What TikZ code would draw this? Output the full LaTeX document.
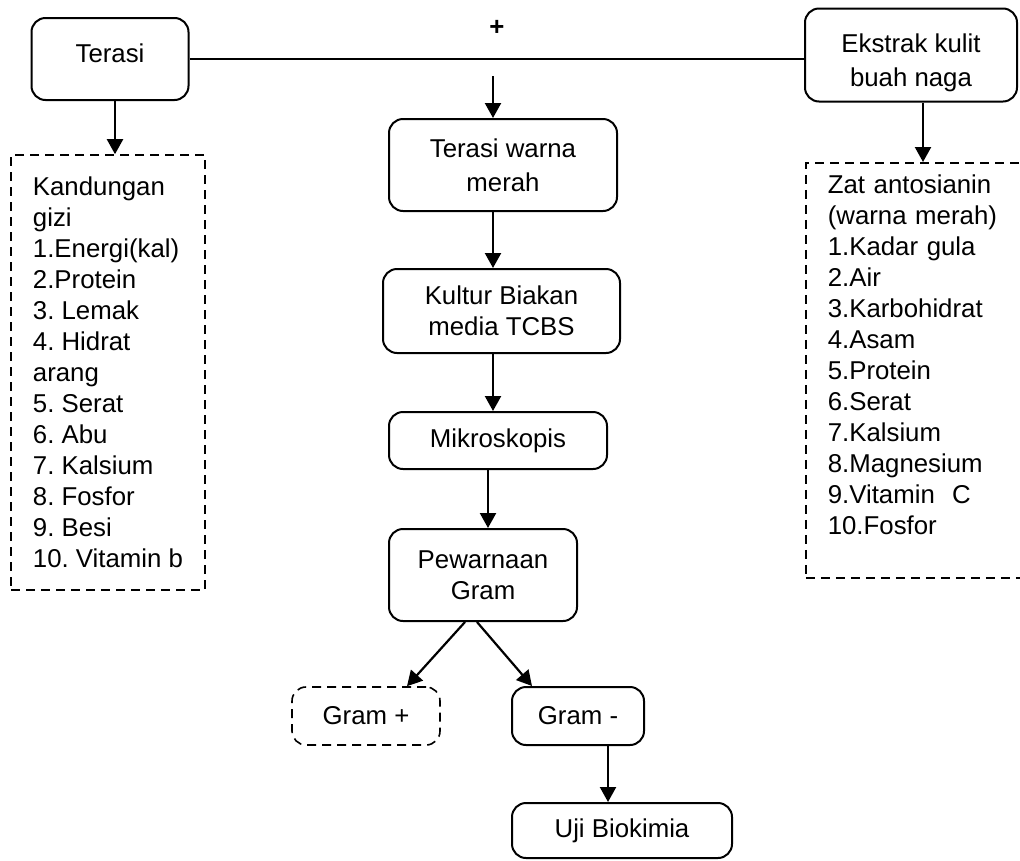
\documentclass[tikz,border=0pt]{standalone}
\usepackage{fontspec}
\setmainfont{Liberation Sans}
\frenchspacing
\usetikzlibrary{arrows.meta, positioning}

\begin{document}
\begin{tikzpicture}[x=1pt, y=-1pt,
  kotak/.style={draw, rounded corners=14pt, line width=2pt, align=center, inner sep=0pt,
    font=\fontsize{25.8}{31}\selectfont},
  putus/.style={dash pattern=on 9pt off 6pt, line width=1.6pt},
  daftar/.style={draw, putus, align=left, inner sep=0pt, font=\fontsize{25.8}{31}\selectfont},
  panah/.style={line width=2.2pt, -{Triangle[length=15pt,width=16pt]}}]
\useasboundingbox (0,0) rectangle (1020,860);
%bahan
\node[kotak, minimum width=157pt, minimum height=82pt] (terasi) at (110,59) {Terasi\rule[-12pt]{0pt}{12pt}};
\node[kotak, minimum width=212pt, minimum height=93pt] (ekstrak) at (911,55) {\rule{0pt}{34pt}Ekstrak kulit\\[3pt]buah naga};
\draw[line width=2.2pt] (terasi.east) -- (terasi.east -| ekstrak.west);
\node[font=\bfseries\fontsize{25.8}{31}\selectfont] (plus) at (497,28) {+};
\coordinate (gabung) at (493,76);
%kandungan
\node[daftar, minimum width=194pt, minimum height=435pt] (gizi) at (108,372.5)
  {Kandungan\\gizi\\1.Energi(kal)\\2.Protein\\3. Lemak\\4. Hidrat\\arang\\5. Serat\\6. Abu\\7. Kalsium\\8. Fosfor\\9. Besi\\10. Vitamin b};
\node[daftar, text width=200pt, inner xsep=22pt, minimum height=415pt, anchor=north west] (zat) at (805,162)
  {Zat antosianin\\(warna merah)\\1.Kadar gula\\2.Air\\3.Karbohidrat\\4.Asam\\5.Protein\\6.Serat\\7.Kalsium\\8.Magnesium\\9.Vitamin~~C\\10.Fosfor\\ \mbox{}};
%alur tengah
\node[kotak, minimum width=228pt, minimum height=92pt] (merah) at (503,165) {Terasi warna\\[3pt]merah};
\node[kotak, minimum width=237pt, minimum height=84pt] (kultur) at (501.5,311) {Kultur Biakan\\media TCBS};
\node[kotak, minimum width=218pt, minimum height=57pt] (mikro) at (498,440.5) {Mikroskopis};
\node[kotak, minimum width=188pt, minimum height=92pt] (gram) at (483,575) {Pewarnaan\\Gram};
\node[kotak, putus, minimum width=148pt, minimum height=58pt] (gplus) at (366,716) {Gram +};
\node[kotak, minimum width=132pt, minimum height=58pt] (gmin) at (578,716) {Gram -};
\node[kotak, minimum width=220pt, minimum height=55pt] (uji) at (622,830.5) {Uji Biokimia};
%panah
\draw[panah] ([xshift=5pt]terasi.south) -- ([xshift=7pt]gizi.north);
\draw[panah] ([xshift=12pt]ekstrak.south) -- ([xshift=12pt]ekstrak.south |- zat.north);
\draw[panah] (gabung) -- (gabung |- merah.north);
\draw[panah] (merah.south -| gabung) -- (kultur.north -| gabung);
\draw[panah] (kultur.south -| gabung) -- (mikro.north -| gabung);
\draw[panah] ([xshift=-10pt]mikro.south) -- ([xshift=5pt]gram.north);
\draw[panah] ([xshift=-18pt]gram.south) -- ([xshift=41pt]gplus.north);
\draw[panah] ([xshift=-6pt]gram.south) -- ([xshift=-46pt]gmin.north);
\draw[panah] ([xshift=30pt]gmin.south) -- ([xshift=-14pt]uji.north);
\end{tikzpicture}
\end{document}
